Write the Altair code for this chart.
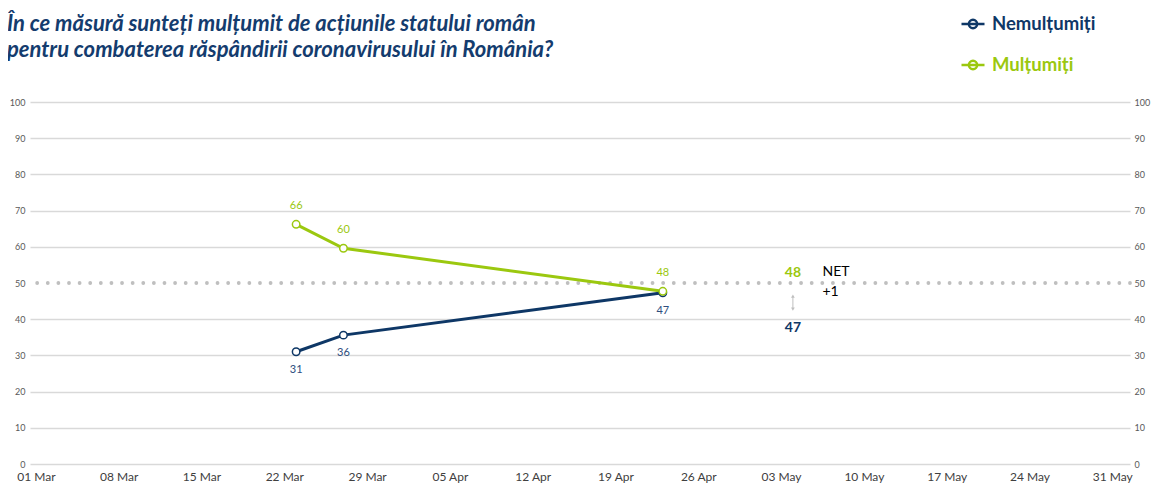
import altair as alt
import pandas as pd

# ---- data ----
series_names = ["Nemulțumiți", "Mulțumiți"]
survey_dates = ["2020-03-23", "2020-03-27", "2020-04-23"]
nemultumiti = [31.0, 35.6, 47.3]
multumiti = [66.2, 59.6, 47.7]
tick_dates = ["2020-03-01", "2020-03-08", "2020-03-15", "2020-03-22", "2020-03-29",
              "2020-04-05", "2020-04-12", "2020-04-19", "2020-04-26", "2020-05-03",
              "2020-05-10", "2020-05-17", "2020-05-24", "2020-05-31"]
y_ticks = [0, 10, 20, 30, 40, 50, 60, 70, 80, 90, 100]
threshold = [50]
title_lines = ["În ce măsură sunteți mulțumit de acțiunile statului român",
               "pentru combaterea răspândirii coronavirusului în România?"]

BLUE = "#0E3766"
GREEN = "#9BC80F"
BLUE_LBL = "#2E4E7E"
GRID = "#D9D9D9"
FONT = "Lato"

rows = []
for d, v in zip(survey_dates, nemultumiti):
    rows.append({"date": d, "value": v, "series": series_names[0]})
for d, v in zip(survey_dates, multumiti):
    rows.append({"date": d, "value": v, "series": series_names[1]})
df = pd.DataFrame(rows)

last_m = round(multumiti[-1])
last_n = round(nemultumiti[-1])
net = last_m - last_n
ann_m = pd.DataFrame([{"date": "2020-05-04", "value": 52.8, "text": str(last_m)}])
ann_n = pd.DataFrame([{"date": "2020-05-04", "value": 37.7, "text": str(last_n)}])
net_df = pd.DataFrame([
    {"date": "2020-05-06T12:00:00Z", "value": 53.1, "text": "NET"},
    {"date": "2020-05-06T12:00:00Z", "value": 47.4, "text": f"{net:+d}"},
])
arrow_df = pd.DataFrame([{"date": "2020-05-04", "value": 46.4, "bottom": 42.8}])
arrow_heads = pd.DataFrame([
    {"date": "2020-05-04", "value": 46.4, "shape": "triangle-up"},
    {"date": "2020-05-04", "value": 42.8, "shape": "triangle-down"},
])
thr_df = pd.DataFrame({"value": threshold})
title_df = pd.DataFrame({"text": ["\n".join(title_lines)]})

def ms(s):
    return int(pd.Timestamp(s, tz="UTC").value // 10**6)

tick_ms = [ms(t) for t in tick_dates]
dom = [ms("2020-02-29T12:00:00"), ms("2020-06-01T12:00:00")]

x_scale = alt.Scale(type="utc", domain=dom)
y_scale = alt.Scale(domain=[0, 100], nice=False)

x_enc = alt.X("date:T", scale=x_scale,
              axis=alt.Axis(values=tick_ms, format="%d %b", labelFont=FONT, labelFontSize=12,
                            labelColor="#404040", labelPadding=7, ticks=False, domain=False,
                            grid=False, title=None, labelAngle=0, labelFlush=False,
                            labelOverlap=False))
y_axis = alt.Axis(values=y_ticks, title=None, ticks=False, domain=False,
                  labelFont=FONT, labelFontSize=9, labelColor="#595959",
                  labelPadding=5, labelOverlap=False,
                  gridColor={"condition": {"test": "datum.value === 50",
                                           "value": "transparent"},
                             "value": GRID},
                  gridWidth=1.3)
y_enc = alt.Y("value:Q", scale=y_scale, axis=y_axis)

sym_path = ("M-1,0 L1,0 M-0.36,0 A0.36,0.36 0 1,0 0.36,0 "
            "A0.36,0.36 0 1,0 -0.36,0")

color_enc = alt.Color("series:N",
                      scale=alt.Scale(domain=series_names, range=[BLUE, GREEN]),
                      legend=alt.Legend(orient="none", legendX=930, legendY=-91, title=None,
                                        symbolType=sym_path, symbolSize=529,
                                        symbolStrokeWidth=2.5,
                                        symbolFillColor="white",
                                        labelFont=FONT, labelFontSize=18.5,
                                        labelFontWeight="bold",
                                        labelColor={"expr": "datum.label === 'Mulțumiți' ? '" + GREEN + "' : '" + BLUE + "'"},
                                        rowPadding=18, labelOffset=6, direction="vertical"))

base = alt.Chart(df)

dots = alt.Chart(thr_df).mark_rule(strokeDash=[0.01, 10.6], strokeCap="round",
                                   strokeWidth=3.8, color="#BFBFBF").encode(y=y_enc)

lines = base.mark_line(strokeWidth=3).encode(x=x_enc, y=y_enc, color=color_enc)

def series_points(name, col):
    return base.transform_filter(alt.datum.series == name).mark_point(
        shape="circle", size=56, filled=False, fill="white", color=col,
        strokeWidth=1.5, opacity=1).encode(x="date:T", y=y_enc)

pts_n = series_points(series_names[0], BLUE)
pts_m = series_points(series_names[1], GREEN)

lbl_n = base.transform_filter(alt.datum.series == series_names[0]).mark_text(
    font=FONT, fontSize=11, color=BLUE_LBL, dy=18).encode(
    x="date:T", y=y_enc, text=alt.Text("value:Q", format=".0f"))
lbl_m = base.transform_filter(alt.datum.series == series_names[1]).mark_text(
    font=FONT, fontSize=11, color=GREEN, dy=-18).encode(
    x="date:T", y=y_enc, text=alt.Text("value:Q", format=".0f"))

ann_m_txt = alt.Chart(ann_m).mark_text(font=FONT, fontSize=14, fontWeight="bold",
                                       color=GREEN).encode(x="date:T", y=y_enc, text="text:N")
ann_n_txt = alt.Chart(ann_n).mark_text(font=FONT, fontSize=14, fontWeight="bold",
                                       color=BLUE).encode(x="date:T", y=y_enc, text="text:N")
net_txt = alt.Chart(net_df).mark_text(font=FONT, fontSize=14, align="left",
                                      color="#000000").encode(
    x="date:T", y=y_enc, text="text:N")
arrow = alt.Chart(arrow_df).mark_rule(color="#BFBFBF", strokeWidth=1).encode(
    x="date:T", y=y_enc, y2="bottom:Q")
heads = alt.Chart(arrow_heads).mark_point(filled=True, size=14, color="#BFBFBF",
                                          opacity=1).encode(
    x="date:T", y=y_enc, shape=alt.Shape("shape:N", scale=None))

title_txt = alt.Chart(title_df).mark_text(
    font=FONT, fontSize=22, fontStyle="italic", fontWeight="bold", color="#143C6E",
    align="left", baseline="alphabetic", lineBreak="\n", lineHeight=26).encode(
    x=alt.value(-23), y=alt.value(-71), text="text:N")

main = alt.layer(dots, lines, pts_n, pts_m, lbl_n, lbl_m, ann_m_txt, ann_n_txt,
                 net_txt, arrow, heads, title_txt)

right_axis = alt.Chart(thr_df).mark_rule(opacity=0).encode(
    y=alt.Y("value:Q", scale=y_scale,
            axis=alt.Axis(orient="right", values=y_ticks, title=None, ticks=False,
                          domain=False, grid=False, labelFont=FONT, labelFontSize=9,
                          labelColor="#595959", labelPadding=4, labelOverlap=False)))

chart = alt.layer(main, right_axis).resolve_scale(y="independent").properties(
    width=1100, height=362,
    padding={"left": 22, "top": 94, "right": 21, "bottom": 25},
    autosize=alt.AutoSizeParams(type="none"),
).configure_view(stroke=None)

chart.save("out.html", embed_options={"renderer": "svg", "actions": False})
